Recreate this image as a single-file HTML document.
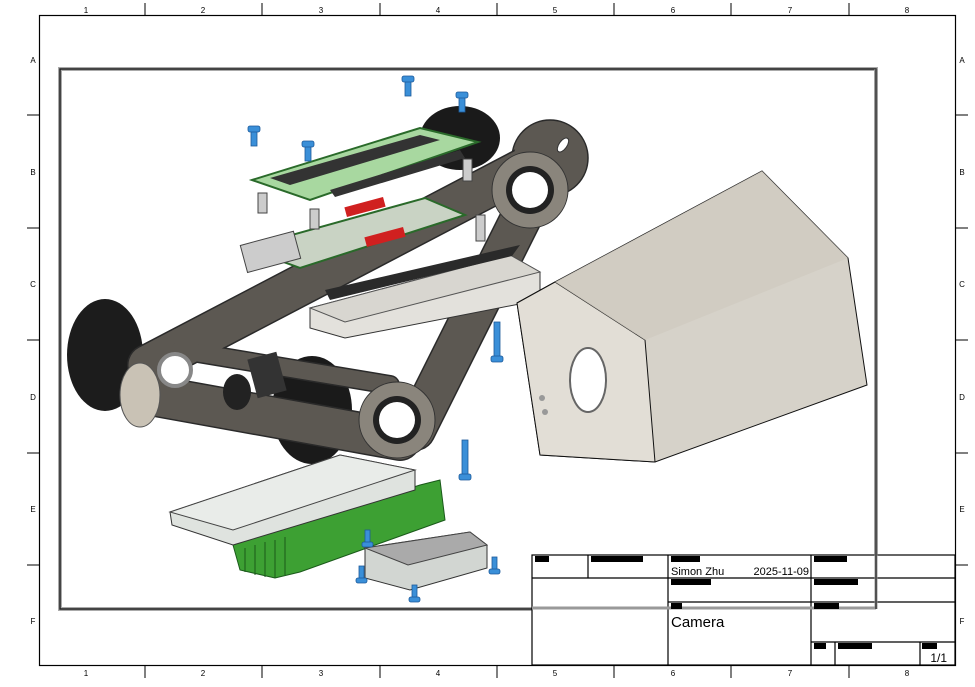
<!DOCTYPE html>
<html><head><meta charset="utf-8"><style>
html,body{margin:0;padding:0;background:#fff;}
svg{display:block;font-family:"Liberation Sans",sans-serif;}
</style></head><body>
<svg width="975" height="687" viewBox="0 0 975 687" xmlns="http://www.w3.org/2000/svg">
<rect width="975" height="687" fill="#fff"/>
<rect x="39.5" y="15.5" width="916" height="650" fill="none" stroke="#000" stroke-width="1.2"/>
<g stroke="#000" stroke-width="1">
<line x1="145" y1="3" x2="145" y2="15"/><line x1="262" y1="3" x2="262" y2="15"/><line x1="380" y1="3" x2="380" y2="15"/><line x1="497" y1="3" x2="497" y2="15"/><line x1="614" y1="3" x2="614" y2="15"/><line x1="731" y1="3" x2="731" y2="15"/><line x1="849" y1="3" x2="849" y2="15"/>
<line x1="145" y1="666" x2="145" y2="678"/><line x1="262" y1="666" x2="262" y2="678"/><line x1="380" y1="666" x2="380" y2="678"/><line x1="497" y1="666" x2="497" y2="678"/><line x1="614" y1="666" x2="614" y2="678"/><line x1="731" y1="666" x2="731" y2="678"/><line x1="849" y1="666" x2="849" y2="678"/>
<line x1="27" y1="115" x2="39" y2="115"/><line x1="27" y1="228" x2="39" y2="228"/><line x1="27" y1="340" x2="39" y2="340"/><line x1="27" y1="453" x2="39" y2="453"/><line x1="27" y1="565" x2="39" y2="565"/>
<line x1="956" y1="115" x2="968" y2="115"/><line x1="956" y1="228" x2="968" y2="228"/><line x1="956" y1="340" x2="968" y2="340"/><line x1="956" y1="453" x2="968" y2="453"/><line x1="956" y1="565" x2="968" y2="565"/>
</g>
<g font-size="8" fill="#000" text-anchor="middle">
<text x="86" y="13">1</text><text x="203" y="13">2</text><text x="321" y="13">3</text><text x="438" y="13">4</text><text x="555" y="13">5</text><text x="673" y="13">6</text><text x="790" y="13">7</text><text x="907" y="13">8</text>
<text x="86" y="676">1</text><text x="203" y="676">2</text><text x="321" y="676">3</text><text x="438" y="676">4</text><text x="555" y="676">5</text><text x="673" y="676">6</text><text x="790" y="676">7</text><text x="907" y="676">8</text>
<text x="33" y="63">A</text><text x="33" y="175">B</text><text x="33" y="287">C</text><text x="33" y="400">D</text><text x="33" y="512">E</text><text x="33" y="624">F</text>
<text x="962" y="63">A</text><text x="962" y="175">B</text><text x="962" y="287">C</text><text x="962" y="400">D</text><text x="962" y="512">E</text><text x="962" y="624">F</text>
</g>
<rect x="60" y="69" width="816" height="540" fill="none" stroke="#aaa" stroke-width="4"/>
<rect x="60" y="69" width="816" height="540" fill="none" stroke="#222" stroke-width="1.5"/>

<ellipse cx="460" cy="138" rx="40" ry="32" fill="#1a1a1a"/>
<ellipse cx="105" cy="355" rx="38" ry="56" fill="#1c1c1c"/>
<ellipse cx="312" cy="410" rx="40" ry="54" fill="#1a1a1a"/>
<circle cx="550" cy="158" r="38" fill="#5c5852" stroke="#2a2a2a" stroke-width="1.5"/>
<g fill="none" stroke-linecap="round" stroke-linejoin="round">
<g stroke="#2a2a2a" stroke-width="42">
<line x1="148" y1="365" x2="540" y2="160"/>
<line x1="550" y1="160" x2="415" y2="430"/>
<line x1="150" y1="395" x2="400" y2="440"/>
</g>
<g stroke="#2a2a2a" stroke-width="20"><line x1="180" y1="350" x2="390" y2="385"/></g>
<g stroke="#5c5852" stroke-width="39">
<line x1="148" y1="365" x2="540" y2="160"/>
<line x1="550" y1="160" x2="415" y2="430"/>
<line x1="150" y1="395" x2="400" y2="440"/>
</g>
<g stroke="#5c5852" stroke-width="17"><line x1="180" y1="350" x2="390" y2="385"/></g>
</g>
<circle cx="550" cy="158" r="36" fill="#5c5852"/>
<ellipse cx="563" cy="145" rx="4" ry="8" fill="#fff" stroke="#333" transform="rotate(35 563 145)"/>
<circle cx="530" cy="190" r="38" fill="#8a857c" stroke="#333"/>
<circle cx="530" cy="190" r="24" fill="#222"/>
<circle cx="530" cy="190" r="18" fill="#fff"/>
<circle cx="397" cy="420" r="38" fill="#8a857c" stroke="#333"/>
<circle cx="397" cy="420" r="24" fill="#222"/>
<circle cx="397" cy="420" r="18" fill="#fff"/>
<ellipse cx="140" cy="395" rx="20" ry="32" fill="#c9c2b5" stroke="#555"/>
<circle cx="175" cy="370" r="16" fill="#fff" stroke="#888" stroke-width="4"/>
<rect x="252" y="355" width="30" height="40" fill="#333" transform="rotate(-15 267 375)"/>
<ellipse cx="237" cy="392" rx="14" ry="18" fill="#222"/>
<polygon points="252,180 420,128 478,142 310,200" fill="#a8d8a0" stroke="#2a6a2a" stroke-width="2"/>
<polygon points="270,178 420,135 440,140 290,185" fill="#333"/>
<polygon points="330,190 460,150 465,158 335,197" fill="#333"/>
<polygon points="245,248 425,198 465,215 300,268" fill="#c9d3c4" stroke="#2a6a2a" stroke-width="2"/>
<rect x="345" y="202" width="40" height="10" fill="#d02020" transform="rotate(-15 365 207)"/>
<rect x="365" y="232" width="40" height="10" fill="#d02020" transform="rotate(-15 385 237)"/>
<rect x="243" y="238" width="55" height="28" fill="#ccc" stroke="#444" transform="rotate(-15 270 252)"/>
<polygon points="310,308 510,255 540,272 540,300 345,338 310,328" fill="#e3e1dc" stroke="#333"/>
<polygon points="310,308 510,255 540,272 345,322" fill="#d8d6d0" stroke="#555"/>
<polygon points="325,290 520,245 512,256 330,300" fill="#2a2a2a"/>
<polygon points="517,303 555,282 762,171 848,258 867,385 655,462 540,455" fill="#d6d2c9" stroke="#111"/>
<polygon points="517,303 555,282 645,340 655,462 540,455" fill="#e2ded6" stroke="#111"/>
<polygon points="555,282 762,171 848,258 645,340" fill="#cfcac0" opacity="0.8"/>
<ellipse cx="588" cy="380" rx="18" ry="32" fill="#fff" stroke="#666" stroke-width="2"/>
<circle cx="542" cy="398" r="3" fill="#999"/><circle cx="545" cy="412" r="3" fill="#999"/>
<polygon points="233,545 420,485 440,480 445,520 300,572 275,578 240,570" fill="#3da033" stroke="#1a5a1a"/>
<g stroke="#1a5a1a" stroke-width="1"><line x1="245" y1="548" x2="245" y2="572"/><line x1="255" y1="545" x2="255" y2="575"/><line x1="265" y1="542" x2="265" y2="577"/><line x1="275" y1="540" x2="275" y2="578"/><line x1="285" y1="537" x2="285" y2="575"/></g>
<polygon points="170,512 340,455 415,470 415,490 233,545 172,525" fill="#dfe3df" stroke="#333"/>
<polygon points="170,512 340,455 415,470 233,530" fill="#e9ece9" stroke="#444"/>
<polygon points="365,548 470,532 487,545 487,568 410,590 365,578" fill="#d2d6d2" stroke="#333"/>
<polygon points="365,548 470,532 487,545 408,565" fill="#aaa" stroke="#444"/>
<g fill="#3a8fd8" stroke="#1d5a9a" stroke-width="0.8">
<rect x="251" y="130" width="6" height="16"/><rect x="248" y="126" width="12" height="6" rx="2"/>
<rect x="405" y="80" width="6" height="16"/><rect x="402" y="76" width="12" height="6" rx="2"/>
<rect x="459" y="96" width="6" height="16"/><rect x="456" y="92" width="12" height="6" rx="2"/>
<rect x="305" y="145" width="6" height="16"/><rect x="302" y="141" width="12" height="6" rx="2"/>
<rect x="494" y="322" width="6" height="38"/><rect x="491" y="356" width="12" height="6" rx="2"/>
<rect x="462" y="440" width="6" height="38"/><rect x="459" y="474" width="12" height="6" rx="2"/>
<rect x="359" y="566" width="5" height="16"/><rect x="356" y="578" width="11" height="5" rx="2"/>
<rect x="412" y="585" width="5" height="16"/><rect x="409" y="597" width="11" height="5" rx="2"/>
<rect x="492" y="557" width="5" height="16"/><rect x="489" y="569" width="11" height="5" rx="2"/>
<rect x="365" y="530" width="5" height="16"/><rect x="362" y="542" width="11" height="5" rx="2"/>
</g>
<g fill="#ccc" stroke="#444"><rect x="258" y="193" width="9" height="20"/><rect x="310" y="209" width="9" height="20"/><rect x="476" y="215" width="9" height="26"/><rect x="463" y="159" width="9" height="22"/></g>

<rect x="532" y="555" width="423" height="110" fill="#fff" stroke="none"/>
<g stroke="#000" stroke-width="1.2" fill="none">
<rect x="532" y="555" width="423" height="110"/>
<line x1="532" y1="578" x2="955" y2="578"/>
<line x1="532" y1="608" x2="668" y2="608"/>
<line x1="668" y1="602" x2="955" y2="602"/>
<line x1="588" y1="555" x2="588" y2="578"/>
<line x1="668" y1="555" x2="668" y2="665"/>
<line x1="811" y1="555" x2="811" y2="665"/>
<line x1="811" y1="642" x2="955" y2="642"/>
<line x1="835" y1="642" x2="835" y2="665"/>
<line x1="920" y1="642" x2="920" y2="665"/>
</g>
<line x1="532" y1="608" x2="876" y2="608" stroke="#999" stroke-width="3"/>
<line x1="876" y1="69" x2="876" y2="609" stroke="#999" stroke-width="3"/>
<line x1="876" y1="69" x2="876" y2="609" stroke="#222" stroke-width="1.2"/>
<g fill="#000">
<rect x="535" y="556" width="14" height="6"/><rect x="591" y="556" width="52" height="6"/>
<rect x="671" y="556" width="29" height="6"/><rect x="814" y="556" width="33" height="6"/>
<rect x="671" y="579" width="40" height="6"/><rect x="814" y="579" width="44" height="6"/>
<rect x="671" y="603" width="11" height="6"/><rect x="814" y="603" width="25" height="6"/>
<rect x="814" y="643" width="12" height="6"/><rect x="838" y="643" width="34" height="6"/><rect x="922" y="643" width="15" height="6"/>
</g>
<text x="671" y="575" font-size="11">Simon Zhu</text>
<text x="809" y="575" font-size="11" text-anchor="end">2025-11-09</text>
<text x="671" y="627" font-size="15">Camera</text>
<text x="947" y="662" font-size="12" text-anchor="end">1/1</text>
</svg>
</body></html>
